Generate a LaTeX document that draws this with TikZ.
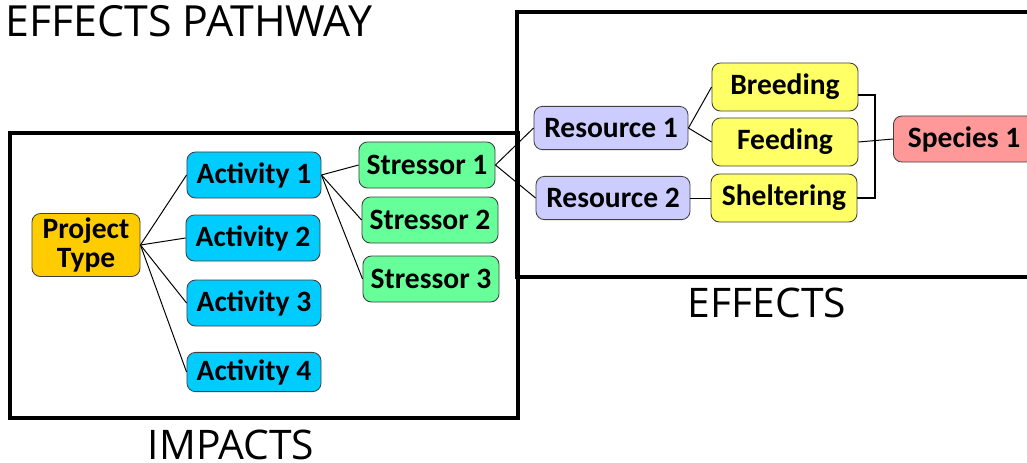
\documentclass[tikz,border=0pt]{standalone}
\usepackage{fontspec}
\setmainfont{Carlito}
\newfontfamily\labelfont{Open Sans}
\usetikzlibrary{positioning}
\definecolor{projorange}{RGB}{255,204,0}
\definecolor{actcyan}{RGB}{0,204,255}
\definecolor{stressgreen}{RGB}{102,255,153}
\definecolor{reslilac}{RGB}{204,204,255}
\definecolor{useyellow}{RGB}{255,255,102}
\definecolor{specred}{RGB}{255,153,153}
\tikzset{
  pbox/.style={rectangle, rounded corners=6pt, draw=black!75, line width=0.6pt,
               font=\bfseries\fontsize{21}{21}\selectfont, inner sep=2pt, align=center},
  projbox/.style ={pbox, fill=projorange,  minimum width=2.7cm,  minimum height=1.575cm},
  actbox/.style  ={pbox, fill=actcyan,     minimum width=3.35cm, minimum height=1.15cm},
  stressbox/.style={pbox, fill=stressgreen, minimum width=3.4cm,  minimum height=1.15cm},
  resbox/.style  ={pbox, fill=reslilac,    minimum width=3.85cm, minimum height=1.08cm},
  usebox/.style  ={pbox, fill=useyellow,   minimum width=3.65cm, minimum height=1.2cm},
  specbox/.style ={pbox, fill=specred,     inner xsep=0.36cm, minimum height=1.15cm},
  link/.style   ={line width=0.7pt, black},
  bracket/.style={line width=1.4pt, black},
  frame/.style  ={line width=2.2pt, black},
  framelabel/.style={font=\labelfont\fontsize{29}{30}\selectfont, inner sep=0pt},
}
\begin{document}
\begin{tikzpicture}[x=0.025cm, y=-0.025cm]
  \useasboundingbox (0,0) rectangle (1027,462);
  % the two frames
  \draw[frame] (517,12) rectangle (1040,277);
  \draw[frame] (10,133) rectangle (518,418);
  \node[framelabel, anchor=base west, font=\labelfont\fontsize{30.5}{31}\selectfont] (title) at (5,36) {EFFECTS PATHWAY};
  \node[framelabel, anchor=base] (impacts) at (231,459) {IMPACTS};
  \node[framelabel, anchor=base] (effects) at (767,317) {EFFECTS};
  % impacts side
  \node[projbox] (proj) at (86,245) {Project\\Type};
  \node[actbox] (act1) at (254,175) {Activity 1};
  \node[actbox] (act2) at (253,238) {Activity 2};
  \node[actbox] (act3) at (254,303) {Activity 3};
  \node[actbox, minimum height=0.98cm] (act4) at (254,372) {Activity 4};
  \node[stressbox] (str1) at (427,165) {Stressor 1};
  \node[stressbox] (str2) at (430,220) {Stressor 2};
  \node[stressbox] (str3) at (431,279) {Stressor 3};
  % effects side
  \node[resbox] (res1) at (611,128) {Resource 1};
  \node[resbox] (res2) at (613,198) {Resource 2};
  \node[usebox] (breed) at (785,87) {Breeding};
  \node[usebox] (feed) at (785,142) {Feeding};
  \node[usebox] (shelter) at (784,198) {Sheltering};
  \node[specbox, anchor=west] (spec) at (893,139) {Species 1};
  % connectors
  \foreach \a in {act1,act2,act3,act4}
    \draw[link] (proj.east) -- (\a.west);
  \foreach \s in {str1,str2,str3}
    \draw[link] (act1.east) -- (\s.west);
  \draw[link] (str1.east) -- (res1.west);
  \draw[link] (str1.east) -- (res2.west);
  \draw[link] (res1.east) -- (breed.west);
  \draw[link] (res1.east) -- (feed.west);
  \draw[link] (res2.east) -- (shelter.west);
  \coordinate (join) at (875,142);
  \draw[bracket] ([yshift=-6pt]breed.east) -| (join) |- (shelter.east);
  \draw[link] (feed.east) -- (spec.west);
\end{tikzpicture}
\end{document}
